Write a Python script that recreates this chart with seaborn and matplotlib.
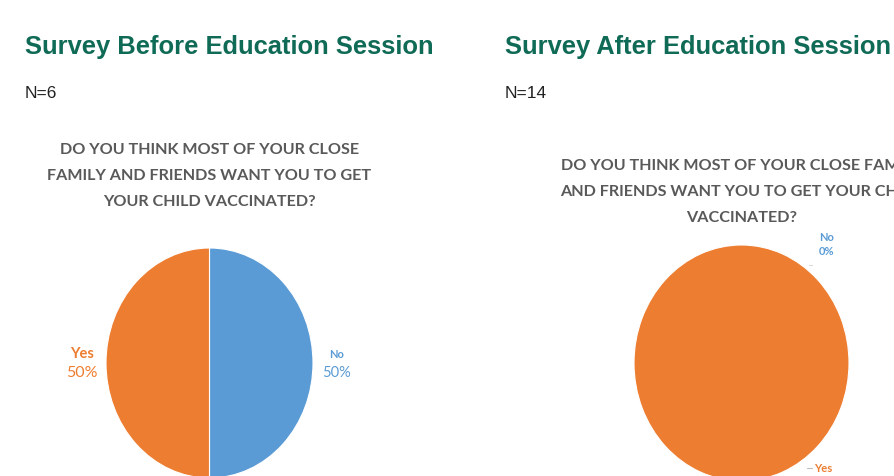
import matplotlib
matplotlib.use("Agg")
import numpy as np
import matplotlib.pyplot as plt
import seaborn as sns

# survey answers (order as drawn: clockwise from 12 o'clock)
answers = ["No", "Yes"]
before_counts = [3, 3]
after_counts = [0, 14]
before_n = 6
after_n = 14

title_before = "Survey Before Education Session"
title_after = "Survey After Education Session"
question_before = ["DO YOU THINK MOST OF YOUR CLOSE",
                   "FAMILY AND FRIENDS WANT YOU TO GET",
                   "YOUR CHILD VACCINATED?"]
question_after = ["DO YOU THINK MOST OF YOUR CLOSE FAMILY",
                  "AND FRIENDS WANT YOU TO GET YOUR CHILD",
                  "VACCINATED?"]

sns.set_theme(style="white")
palette = sns.color_palette(["#5B9BD5", "#ED7D31"])
green = "#0F6A56"
gray = "#595959"
qfont = "Lato"

W, H = 895, 476
fig = plt.figure(figsize=(W / 100, H / 100), dpi=100)
fig.patch.set_facecolor("white")


def fx(px):
    return px / W


def fy(py):
    return 1 - py / H


def pie_axes(x0, y0, x1, y1):
    return fig.add_axes([fx(x0), fy(y1), (x1 - x0) / W, (y1 - y0) / H])


def draw_pie(ax, counts):
    wedges, _ = ax.pie(counts, colors=palette, startangle=90, counterclock=False,
                       wedgeprops=dict(edgecolor="white", linewidth=0.8))
    ax.set_aspect("auto")
    ax.set_xlim(-1, 1)
    ax.set_ylim(-1, 1)
    ax.axis("off")
    for w in wedges:
        w.set_clip_on(False)
    return wedges


# ---- headers ----
fig.text(fx(25), fy(54), title_before, color=green, fontsize=18.4,
         fontweight="bold", family="Liberation Sans", va="baseline")
fig.text(fx(505), fy(54), title_after, color=green, fontsize=18.4,
         fontweight="bold", family="Liberation Sans", va="baseline")
fig.text(fx(25), fy(98), f"N={before_n}", color="#222222", fontsize=12.5,
         family="Liberation Sans", va="baseline")
fig.text(fx(505), fy(98), f"N={after_n}", color="#222222", fontsize=12.5,
         family="Liberation Sans", va="baseline")

for i, line in enumerate(question_before):
    fig.text(fx(209.5), fy(154 + 26 * i), line, color=gray, fontsize=11.6,
             fontweight="bold", family=qfont, ha="center", va="baseline")
# the slide is cropped on the right, so the long lines run off the edge
for i, line in enumerate(question_after):
    fig.text(fx(742), fy(170 + 25.8 * i), line, color=gray, fontsize=11.6,
             fontweight="bold", family=qfont, ha="center", va="baseline")

# ---- before pie ----
ax1 = pie_axes(106, 248, 313, 478)
wedges = draw_pie(ax1, before_counts)
total = sum(before_counts)
big = {"Yes": (10.5, 11.5), "No": (8, 10.5)}
for w, name, c, col in zip(wedges, answers, before_counts, palette):
    mid = np.deg2rad((w.theta1 + w.theta2) / 2)
    pos = (1.23 * np.cos(mid), np.sin(mid) * 0.0)
    s1, s2 = big[name]
    ax1.annotate(name, pos, xytext=(0, 5), textcoords="offset pixels",
                 ha="center", va="baseline", color=col, fontsize=s1,
                 fontweight="bold", family=qfont, annotation_clip=False)
    ax1.annotate(f"{round(100 * c / total)}%", pos, xytext=(0, -3),
                 textcoords="offset pixels", ha="center", va="top", color=col,
                 fontsize=s2, family=qfont, annotation_clip=False)

# ---- after pie ----
ax2 = pie_axes(634, 245, 849, 481)
wedges = draw_pie(ax2, after_counts)
total = sum(after_counts)
after_pos = {"No": (0.79, 1.02), "Yes": (0.66, -0.89)}
for w, name, c, col in zip(wedges, answers, after_counts, palette):
    x, y = after_pos[name]
    pct = f"{round(100 * c / total)}%"
    if name == "No":
        ax2.annotate(name, (x, y), xytext=(0, 2), textcoords="offset pixels",
                     ha="center", va="baseline", color=col, fontsize=8,
                     fontweight="bold", family=qfont, annotation_clip=False)
        ax2.annotate(pct, (x, y), xytext=(0, -3), textcoords="offset pixels",
                     ha="center", va="top", color=col, fontsize=8,
                     fontweight="bold", family=qfont, annotation_clip=False)
        ax2.plot([0.63, 0.66], [0.83, 0.83], color="#D9D9D9", lw=0.8,
                 clip_on=False)
    else:
        ax2.plot([x - 0.05, x], [y, y], color="#BFBFBF", lw=0.8, clip_on=False)
        ax2.annotate(name, (x, y), xytext=(2, 0), textcoords="offset pixels",
                     ha="left", va="center", color=col, fontsize=8,
                     fontweight="bold", family=qfont, annotation_clip=False)

fig.savefig("out.png", dpi=100, facecolor="white")
